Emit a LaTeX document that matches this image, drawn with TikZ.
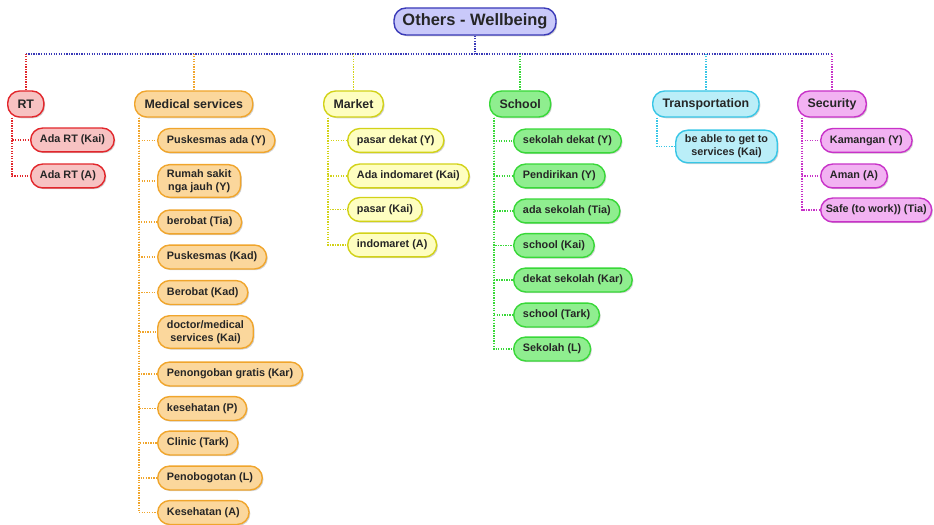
\documentclass[tikz,border=0pt]{standalone}
\usepackage{fontspec}
\setmainfont{Liberation Sans}
\usetikzlibrary{calc,shadows}
\definecolor{ttlfill}{HTML}{C9C9FA}\definecolor{ttldraw}{HTML}{3A3AB8}
\definecolor{rtfill}{HTML}{F7C2C2}\definecolor{rtdraw}{HTML}{E2262B}
\definecolor{medfill}{HTML}{FBD79C}\definecolor{meddraw}{HTML}{F0A52C}
\definecolor{mktfill}{HTML}{FEFEC0}\definecolor{mktdraw}{HTML}{D2D218}
\definecolor{schfill}{HTML}{8FEE8F}\definecolor{schdraw}{HTML}{38D838}
\definecolor{trfill}{HTML}{BAEEF8}\definecolor{trdraw}{HTML}{38C6E6}
\definecolor{secfill}{HTML}{F2B2F2}\definecolor{secdraw}{HTML}{C832C8}
\tikzset{
  pill/.style={draw=#1draw, fill=#1fill, line width=1pt, rounded corners=8.5pt,
    drop shadow={shadow xshift=0.9pt, shadow yshift=-0.9pt, opacity=0.35},
    font=\bfseries, text=black!85},
  leaf/.style={pill=#1, anchor=west, align=center, inner xsep=6.6pt, inner ysep=3.5pt,
    minimum height=17pt, font=\bfseries\fontsize{7.7}{9}\selectfont},
  topic/.style={pill=#1, anchor=west, inner xsep=7pt, minimum height=18.5pt,
    font=\bfseries\fontsize{8.8}{10}\selectfont},
  twigline/.style={draw=#1draw, line width=1.2pt, dash pattern=on 0.9pt off 0.9pt}
}
\def\twig[#1](#2)(#3){\draw[twigline=#1] ($(#2.south west)+(5,0)$) |- (#3.west);}

\begin{document}
\begin{tikzpicture}[x=0.025cm, y=-0.025cm]
		%%%%% START %%%%%
		\useasboundingbox (0, 0) rectangle (934, 525);
		
		\node[pill=ttl, inner xsep=6pt, minimum height=19.2pt, font=\bfseries\fontsize{11.7}{13}\selectfont] (title) at (475, 21.5) {Others - Wellbeing};
		\coordinate (bus) at (0, 54);
		
		\node[topic=rt] (rt) at (7, 104) {RT};
		\node[topic=med] (med) at (134, 104) {Medical services};
		\node[topic=mkt] (mkt) at (323, 104) {Market};
		\node[topic=sch] (sch) at (489, 104) {School};
		\node[topic=tr] (tr) at (652, 104) {Transportation};
		\node[topic=sec] (sec) at (797, 104) {Security};
		
		\draw[twigline=ttl] (title.south) -- (title.south |- bus);
		\draw[twigline=ttl] (rt.north |- bus) -- (sec.north |- bus);
		\draw[twigline=rt] (rt.north) -- (rt.north |- bus);
		\draw[twigline=med] (med.north) -- (med.north |- bus);
		\draw[twigline=mkt] (mkt.north) -- (mkt.north |- bus);
		\draw[twigline=sch] (sch.north) -- (sch.north |- bus);
		\draw[twigline=tr] (tr.north) -- (tr.north |- bus);
		\draw[twigline=sec] (sec.north) -- (sec.north |- bus);
		
		% RT
		\node[leaf=rt] (rt1) at (30, 140) {Ada RT (Kai)};
		\node[leaf=rt] (rt2) at (30, 176) {Ada RT (A)};
		\twig[rt](rt)(rt1) \twig[rt](rt)(rt2)
		
		% medical services
		\node[leaf=med] (med1) at (157, 140.5) {Puskesmas ada (Y)};
		\node[leaf=med] (med2) at (157, 181) {Rumah sakit\\nga jauh (Y)};
		\node[leaf=med] (med3) at (157, 222) {berobat (Tia)};
		\node[leaf=med] (med4) at (157, 257) {Puskesmas (Kad)};
		\node[leaf=med] (med5) at (157, 292.5) {Berobat (Kad)};
		\node[leaf=med] (med6) at (157, 332) {doctor/medical\\services (Kai)};
		\node[leaf=med] (med7) at (157, 374) {Penongoban gratis (Kar)};
		\node[leaf=med] (med8) at (157, 408.5) {kesehatan (P)};
		\node[leaf=med] (med9) at (157, 443) {Clinic (Tark)};
		\node[leaf=med] (med10) at (157, 478) {Penobogotan (L)};
		\node[leaf=med] (med11) at (157, 512.5) {Kesehatan (A)};
		\twig[med](med)(med1) \twig[med](med)(med2) \twig[med](med)(med3)
		\twig[med](med)(med4) \twig[med](med)(med5) \twig[med](med)(med6)
		\twig[med](med)(med7) \twig[med](med)(med8) \twig[med](med)(med9)
		\twig[med](med)(med10) \twig[med](med)(med11)
		
		% market
		\node[leaf=mkt] (mkt1) at (347, 140.5) {pasar dekat (Y)};
		\node[leaf=mkt] (mkt2) at (347, 176) {Ada indomaret (Kai)};
		\node[leaf=mkt] (mkt3) at (347, 209.5) {pasar (Kai)};
		\node[leaf=mkt] (mkt4) at (347, 245) {indomaret (A)};
		\twig[mkt](mkt)(mkt1) \twig[mkt](mkt)(mkt2)
		\twig[mkt](mkt)(mkt3) \twig[mkt](mkt)(mkt4)
		
		% school
		\node[leaf=sch] (sch1) at (513, 141) {sekolah dekat (Y)};
		\node[leaf=sch] (sch2) at (513, 176) {Pendirikan (Y)};
		\node[leaf=sch] (sch3) at (513, 211) {ada sekolah (Tia)};
		\node[leaf=sch] (sch4) at (513, 245.5) {school (Kai)};
		\node[leaf=sch] (sch5) at (513, 280) {dekat sekolah (Kar)};
		\node[leaf=sch] (sch6) at (513, 315) {school (Tark)};
		\node[leaf=sch] (sch7) at (513, 349) {Sekolah (L)};
		\twig[sch](sch)(sch1) \twig[sch](sch)(sch2) \twig[sch](sch)(sch3)
		\twig[sch](sch)(sch4) \twig[sch](sch)(sch5) \twig[sch](sch)(sch6)
		\twig[sch](sch)(sch7)
		
		% transportation
		\node[leaf=tr] (tr1) at (675, 146.5) {be able to get to\\services (Kai)};
		\twig[tr](tr)(tr1)
		
		% security
		\node[leaf=sec] (sec1) at (820, 140.5) {Kamangan (Y)};
		\node[leaf=sec] (sec2) at (820, 176) {Aman (A)};
		\node[leaf=sec, inner xsep=3.6pt] (sec3) at (820, 210) {Safe (to work)) (Tia)};
		\twig[sec](sec)(sec1) \twig[sec](sec)(sec2) \twig[sec](sec)(sec3)
		
		%%%%% END %%%%%
	\end{tikzpicture}
\end{document}
